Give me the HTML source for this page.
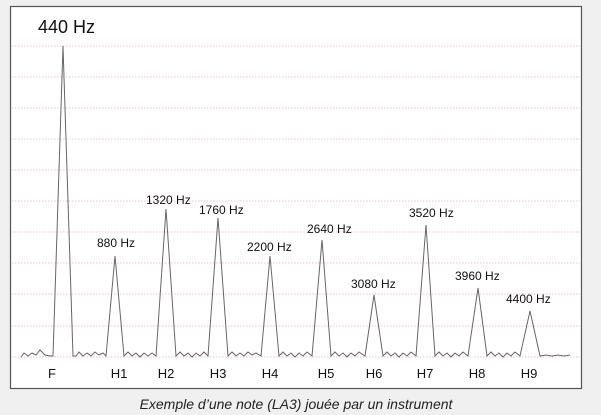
<!DOCTYPE html>
<html><head><meta charset="utf-8"><style>
html,body{margin:0;padding:0;background:#f0f0f0;width:601px;height:415px;overflow:hidden}
svg{display:block}
</style></head><body>
<svg width="601" height="415" xmlns="http://www.w3.org/2000/svg" font-family="Liberation Sans, Arial, sans-serif">
<rect x="0" y="0" width="601" height="415" fill="#f0f0f0"/>
<rect x="10.5" y="6.5" width="571" height="382" fill="#fff" stroke="#555" stroke-width="1.2"/>
<g stroke="#e6c4c4" stroke-width="1" stroke-dasharray="1.5,1.5">
<line x1="12" x2="580" y1="46" y2="46"/><line x1="12" x2="580" y1="77" y2="77"/>
<line x1="12" x2="580" y1="108" y2="108"/><line x1="12" x2="580" y1="139" y2="139"/>
<line x1="12" x2="580" y1="170" y2="170"/><line x1="12" x2="580" y1="201" y2="201"/>
<line x1="12" x2="580" y1="232" y2="232"/><line x1="12" x2="580" y1="263" y2="263"/>
<line x1="12" x2="580" y1="294" y2="294"/><line x1="12" x2="580" y1="326" y2="326"/>
<line x1="12" x2="580" y1="357" y2="357"/>
</g>
<polyline fill="none" stroke="#666" stroke-width="1" points="
21,357 24,353 28,356 32,353 36,355 40,350 45,355 50,356 53,356 63,46 73,356 76,356 79,352 83,356 87,353 91,356 95,352 99,355 103,353 106,356 115,256 124,356 128,352 132,356 136,353 140,357 144,353 148,356 152,353 156,356 166,209 176,356 180,352 184,356 188,353 192,357 196,353 200,356 204,352 208,356 218,218 228,356 232,352 236,356 240,353 244,356 248,352 252,355 256,353 261,356 270,256 279,356 283,352 287,356 291,353 295,357 299,353 303,356 307,352 312,356 322,240 331,356 335,352 339,356 343,353 347,357 351,353 355,356 359,352 365,356 374,295 383,356 387,352 391,356 395,353 399,357 403,353 407,356 411,352 416,356 426,225 435,356 439,352 443,356 447,353 451,357 455,353 459,356 463,352 468,356 478,288 487,356 491,352 495,356 499,353 503,357 507,353 511,356 515,352 520,356 530,311 540,356 546,355 552,356 558,355 564,356 570,355"/>
<g fill="#111" font-size="12">
<text x="38" y="33" font-size="18">440 Hz</text>
<text x="97" y="247">880 Hz</text>
<text x="146" y="204">1320 Hz</text>
<text x="199" y="214">1760 Hz</text>
<text x="247" y="251">2200 Hz</text>
<text x="307" y="233">2640 Hz</text>
<text x="351" y="288">3080 Hz</text>
<text x="409" y="217">3520 Hz</text>
<text x="455" y="280">3960 Hz</text>
<text x="506" y="303">4400 Hz</text>
</g>
<g fill="#111" font-size="13" text-anchor="middle">
<text x="52" y="378">F</text><text x="119" y="378">H1</text><text x="166" y="378">H2</text>
<text x="218" y="378">H3</text><text x="270" y="378">H4</text><text x="326" y="378">H5</text>
<text x="374" y="378">H6</text><text x="425" y="378">H7</text><text x="477" y="378">H8</text>
<text x="529" y="378">H9</text>
</g>
<text x="296" y="409" text-anchor="middle" font-size="14" font-style="italic" fill="#222">Exemple d’une note (LA3) jouée par un instrument</text>
</svg>
</body></html>
